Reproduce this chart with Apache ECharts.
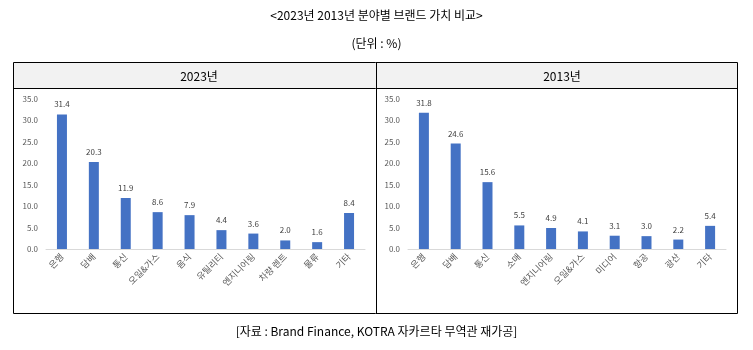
<!DOCTYPE html>
<html><head><meta charset="utf-8">
<script src="https://cdn.jsdelivr.net/npm/echarts@6/dist/echarts.min.js"></script>
<style>html,body{margin:0;padding:0;background:#fff}#c{width:753px;height:350px}</style>
</head><body><div id="c"></div>
<script>
const cats2023 = ['은행','담배','통신','오일&가스','음식','유틸리티','엔지니어링','차량 렌트','물류','기타'];
const vals2023 = [31.4, 20.3, 11.9, 8.6, 7.9, 4.4, 3.6, 2.0, 1.6, 8.4];
const cats2013 = ['은행','담배','통신','소매','엔지니어링','오일&가스','미디어','항공','광산','기타'];
const vals2013 = [31.8, 24.6, 15.6, 5.5, 4.9, 4.1, 3.1, 3.0, 2.2, 5.4];
const yTicks = [0, 5, 10, 15, 20, 25, 30, 35];
const panelTitles = ['2023년', '2013년'];

const FONT = '"Noto Sans CJK KR", "Noto Sans", sans-serif';
const chart = echarts.init(document.getElementById('c'), null, {renderer: 'canvas'});

function yAxis(i) {
  return {
    type: 'value', gridIndex: i, min: yTicks[0], max: yTicks[yTicks.length - 1], interval: 5,
    axisLine: {show: false}, axisTick: {show: false}, splitLine: {show: false},
    axisLabel: {formatter: v => v.toFixed(1), color: '#595959', fontSize: 8, fontFamily: FONT, margin: 8}
  };
}
function xAxis(i, cats) {
  return {
    type: 'category', gridIndex: i, data: cats,
    axisLine: {show: true, lineStyle: {color: '#d9d9d9', width: 1}}, axisTick: {show: false},
    axisLabel: {rotate: 45, color: '#595959', fontSize: 9, fontFamily: FONT, interval: 0, margin: 6}
  };
}
function bar(i, vals) {
  return {
    type: 'bar', xAxisIndex: i, yAxisIndex: i, data: vals, barWidth: 10,
    itemStyle: {color: '#4472C4'},
    label: {show: true, position: 'top', formatter: p => p.value.toFixed(1), color: '#404040', fontSize: 8, fontFamily: FONT, distance: 6},
    silent: true
  };
}

chart.setOption({
  animation: false,
  textStyle: {fontFamily: FONT},
  title: [
    {text: '<2023년 2013년 분야별 브랜드 가치 비교>', left: 'center', top: 4, textStyle: {fontSize: 12, fontWeight: 'normal', color: '#000', fontFamily: FONT}},
    {text: '(단위 : %)', left: 'center', top: 32, textStyle: {fontSize: 12, fontWeight: 'normal', color: '#000', fontFamily: FONT}},
    {text: '[자료 : Brand Finance, KOTRA 자카르타 무역관 재가공]', left: 'center', top: 320, textStyle: {fontSize: 12, fontWeight: 'normal', color: '#000', fontFamily: FONT}},
    {text: panelTitles[0], left: 194, top: 65, textAlign: 'center', textStyle: {fontSize: 12, fontWeight: 'normal', color: '#000', fontFamily: FONT}},
    {text: panelTitles[1], left: 557, top: 65, textAlign: 'center', textStyle: {fontSize: 12, fontWeight: 'normal', color: '#000', fontFamily: FONT}}
  ],
  graphic: [
    {type: 'rect', z: -10, shape: {x: 13.5, y: 62.5, width: 724, height: 25.5}, style: {fill: '#f2f2f2', stroke: null}},
    {type: 'rect', z: 100, shape: {x: 13.5, y: 62.5, width: 724, height: 251}, style: {fill: null, stroke: '#000', lineWidth: 1}},
    {type: 'line', z: 100, shape: {x1: 13.5, y1: 88.5, x2: 737.5, y2: 88.5}, style: {stroke: '#000', lineWidth: 1}},
    {type: 'line', z: 100, shape: {x1: 376.5, y1: 62.5, x2: 376.5, y2: 313.5}, style: {stroke: '#000', lineWidth: 1}}
  ],
  grid: [
    {left: 46, width: 319, top: 99, height: 150},
    {left: 408, width: 318, top: 99, height: 150}
  ],
  xAxis: [xAxis(0, cats2023), xAxis(1, cats2013)],
  yAxis: [yAxis(0), yAxis(1)],
  series: [bar(0, vals2023), bar(1, vals2013)]
});
</script></body></html>
